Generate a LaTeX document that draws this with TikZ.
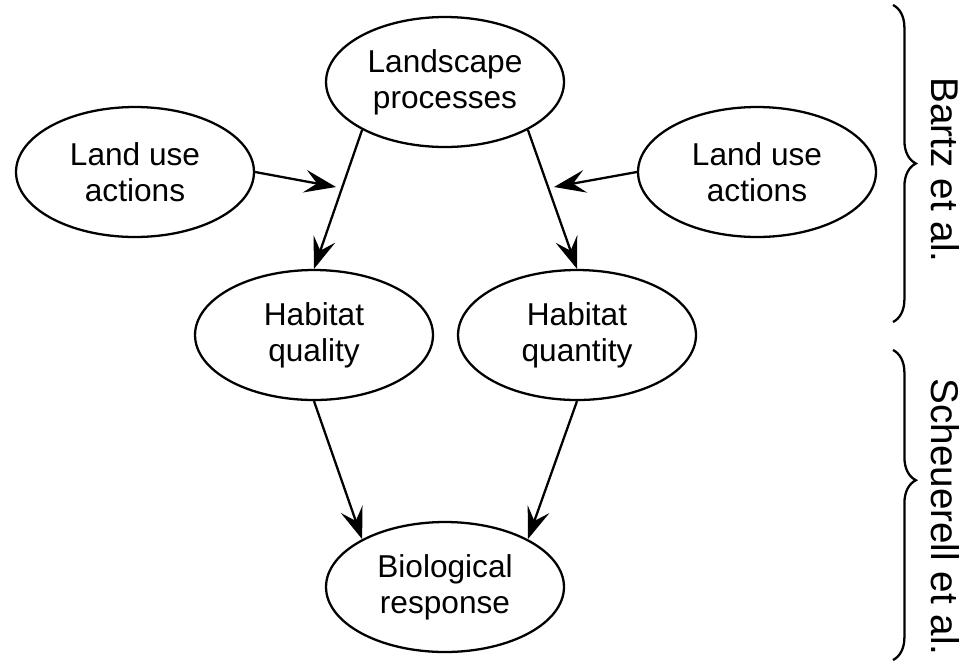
\documentclass[tikz,border=0pt]{standalone}
\usepackage{fontspec}
\setmainfont{Liberation Sans}
\usetikzlibrary{shapes.geometric,arrows.meta,decorations.pathreplacing}
\begin{document}
\begin{tikzpicture}[x=0.02cm,y=-0.02cm,
  oval/.style={ellipse,draw,line width=1.3pt,minimum width=4.76cm,minimum height=2.6cm,inner sep=0pt,align=center,font=\fontsize{18}{20.5}\selectfont},
  arr/.style={line width=1.3pt,-{Stealth[length=18pt,width=13pt,inset=7pt]}},
  bracedeco/.style={line width=1.3pt,decorate,decoration={brace,amplitude=13pt}},
  sidelabel/.style={rotate=-90,font=\fontsize{22}{24}\selectfont,inner sep=0pt}]
\useasboundingbox (0,0) rectangle (973,664);
\node[oval] (lp) at (445,82) {Landscape\\processes};
\node[oval] (lu1) at (135,172) {Land use\\actions};
\node[oval] (lu2) at (757,172) {Land use\\actions};
\node[oval] (hq) at (314,335) {Habitat\\quality};
\node[oval] (hn) at (577,335) {Habitat\\quantity};
\node[oval] (br) at (445,587) {Biological\\response};
\coordinate (m1) at (336,187);
\coordinate (m2) at (554,187);
\draw[arr] (lp.210) -- (hq.north);
\draw[arr] (lp.330) -- (hn.north);
\draw[arr] (lu1.east) -- (m1);
\draw[arr] (lu2.west) -- (m2);
\draw[arr] (hq.south) -- (br.150);
\draw[arr] (hn.south) -- (br.30);
\coordinate (b1a) at (893,5);
\coordinate (b1b) at (893,322);
\coordinate (b2a) at (893,350);
\coordinate (b2b) at (893,660);
\draw[bracedeco] (b1a) -- (b1b);
\draw[bracedeco,decoration={aspect=0.42}] (b2a) -- (b2b);
\node[sidelabel] (t1) at (945,170) {Bartz et al.};
\node[sidelabel] (t2) at (945,517) {Scheuerell et al.};
\end{tikzpicture}
\end{document}
